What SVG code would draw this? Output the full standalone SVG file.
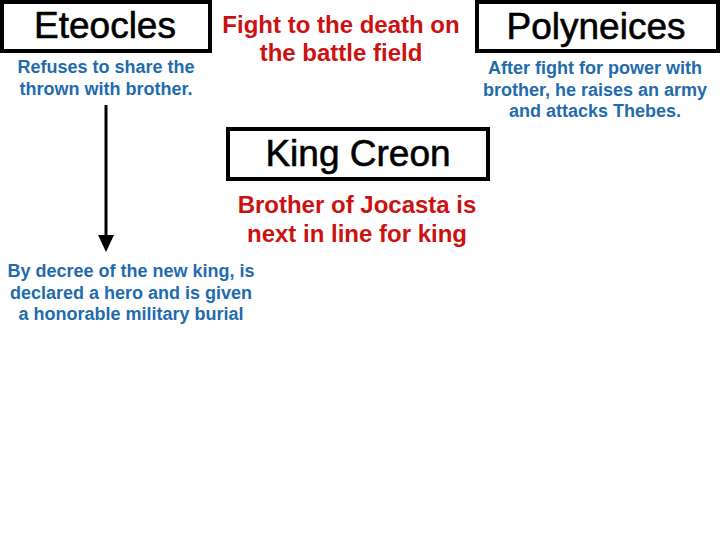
<svg xmlns="http://www.w3.org/2000/svg" width="720" height="540" viewBox="0 0 720 540">
<defs>
<style>
.box{fill:#fff;stroke:#000;stroke-width:4}
.title{font-family:"Liberation Sans",Arial,sans-serif;font-size:37px;fill:#000;stroke:#000;stroke-width:0.6;text-anchor:middle}
.blue{font-family:"Liberation Sans",Arial,sans-serif;font-weight:bold;font-size:18px;fill:#1F6BAE;text-anchor:middle}
.red{font-family:"Liberation Sans",Arial,sans-serif;font-weight:bold;font-size:24px;fill:#CC1111;text-anchor:middle}
</style>
</defs>
<rect width="720" height="540" fill="#fff"/>
<g id="eteocles">
<rect class="box" x="2" y="2" width="208" height="49"/>
<text class="title" x="105" y="38">Eteocles</text>
<text class="blue" x="106" y="73">Refuses to share the</text>
<text class="blue" x="106" y="95">thrown with brother.</text>
</g>
<g id="fight">
<text class="red" x="341" y="33">Fight to the death on</text>
<text class="red" x="341" y="61">the battle field</text>
</g>
<g id="polyneices">
<rect class="box" x="477" y="2" width="241" height="49"/>
<text class="title" x="596" y="39">Polyneices</text>
<text class="blue" x="595" y="74">After fight for power with</text>
<text class="blue" x="595" y="96">brother, he raises an army</text>
<text class="blue" x="595" y="117">and attacks Thebes.</text>
</g>
<g id="creon">
<rect class="box" x="228" y="129" width="260" height="50"/>
<text class="title" x="358" y="166">King Creon</text>
<text class="red" x="357" y="213">Brother of Jocasta is</text>
<text class="red" x="357" y="242">next in line for king</text>
</g>
<g id="burial">
<text class="blue" x="131" y="277">By decree of the new king, is</text>
<text class="blue" x="131" y="299">declared a hero and is given</text>
<text class="blue" x="131" y="320">a honorable military burial</text>
</g>
<g id="connectors">
<line x1="106" y1="105" x2="106" y2="236" stroke="#000" stroke-width="3"/>
<path d="M98,235 L114,235 L106,252 Z" fill="#000"/>
</g>
</svg>
